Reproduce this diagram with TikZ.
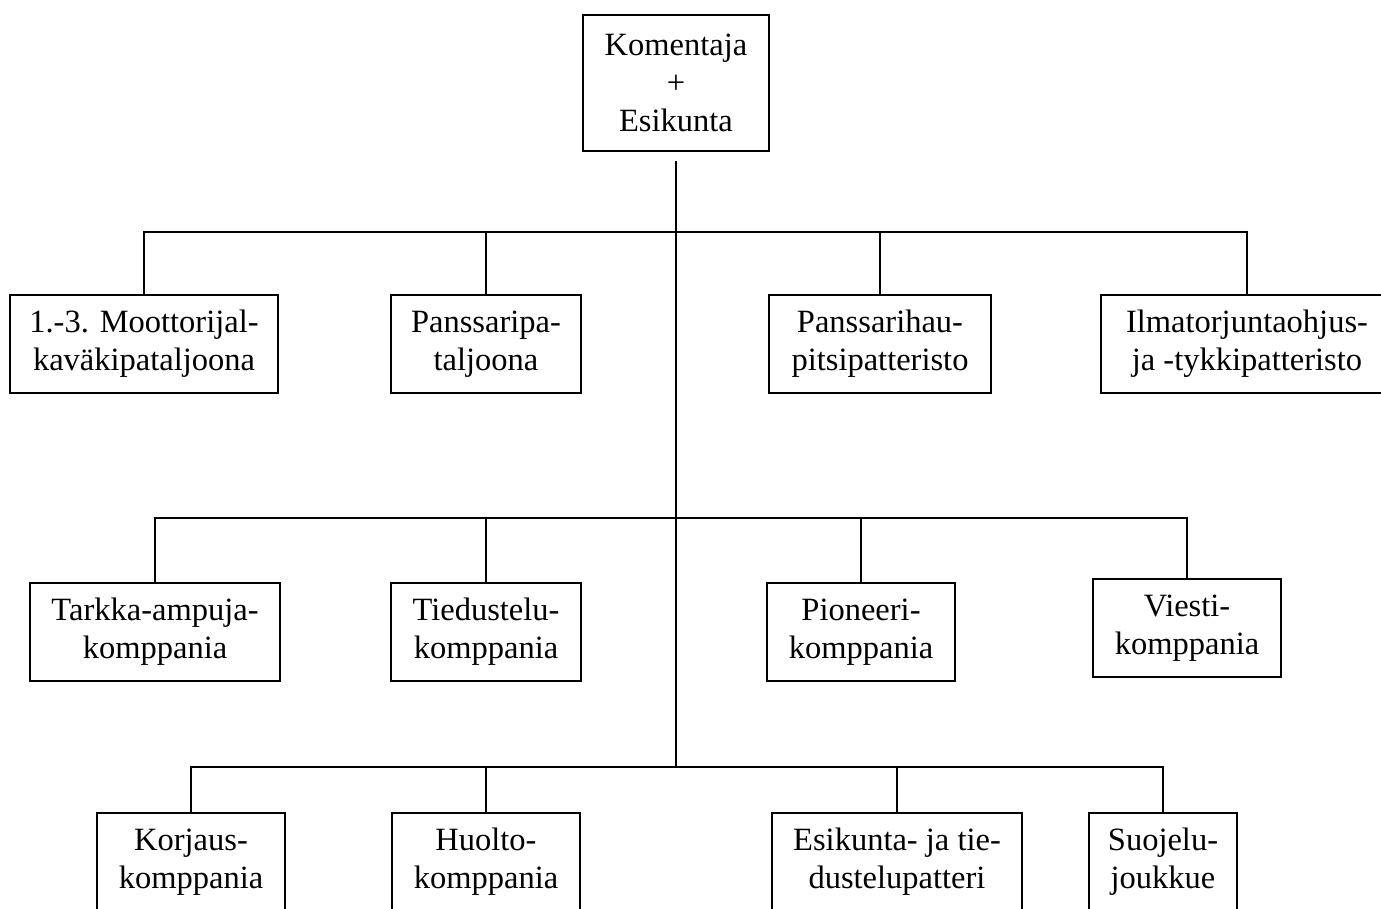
\documentclass[tikz,border=0pt]{standalone}
\usepackage{fontspec}
\setmainfont{Liberation Serif}
\begin{document}
\begin{tikzpicture}[x=1pt,y=-1pt,
  unit/.style={draw=black,line width=1.9pt,inner sep=0pt,align=center,
    font=\fontsize{32.5}{38}\selectfont},
  link/.style={line width=1.9pt,line cap=rect}]
\clip (0,0) rectangle (1381,908);
\fill[white] (0,0) rectangle (1381,908);
% top
\node[unit,minimum width=186pt,minimum height=136pt] (top) at (676,83) {Komentaja\\+\\Esikunta};
% row 1
\node[unit,minimum width=268pt,minimum height=98pt] (a) at (144,344) {1.-3. Moottorijal-\\kaväkipataljoona};
\node[unit,minimum width=190pt,minimum height=98pt] (b) at (486,344) {Panssaripa-\\taljoona};
\node[unit,minimum width=222pt,minimum height=98pt] (c) at (880,344) {Panssarihau-\\pitsipatteristo};
\node[unit,minimum width=292pt,minimum height=98pt] (d) at (1247,344) {Ilmatorjuntaohjus-\\ja -tykkipatteristo};
% row 2
\node[unit,minimum width=250pt,minimum height=98pt] (e) at (155,632) {Tarkka-ampuja-\\komppania};
\node[unit,minimum width=190pt,minimum height=98pt] (f) at (486,632) {Tiedustelu-\\komppania};
\node[unit,minimum width=188pt,minimum height=98pt] (g) at (861,632) {Pioneeri-\\komppania};
\node[unit,minimum width=188pt,minimum height=98pt] (h) at (1187,628) {Viesti-\\komppania};
% row 3
\node[unit,minimum width=188pt,minimum height=98pt] (i) at (191,862) {Korjaus-\\komppania};
\node[unit,minimum width=188pt,minimum height=98pt] (j) at (486,862) {Huolto-\\komppania};
\node[unit,minimum width=250pt,minimum height=98pt] (k) at (897,862) {Esikunta- ja tie-\\dustelupatteri};
\node[unit,minimum width=148pt,minimum height=98pt] (l) at (1163,862) {Suojelu-\\joukkue};
% trunk
\coordinate (t0) at (676,162);
\coordinate (t1) at (676,232);
\coordinate (t2) at (676,518);
\coordinate (t3) at (676,767);
\draw[link] (t0) -- (t3);
% bars
\draw[link] (a.north) |- (t1) -| (d.north);
\draw[link] (b.north) |- (t1) -| (c.north);
\draw[link] (e.north) |- (t2) -| (h.north);
\draw[link] (f.north) |- (t2) -| (g.north);
\draw[link] (i.north) |- (t3) -| (l.north);
\draw[link] (j.north) |- (t3) -| (k.north);
\end{tikzpicture}
\end{document}
